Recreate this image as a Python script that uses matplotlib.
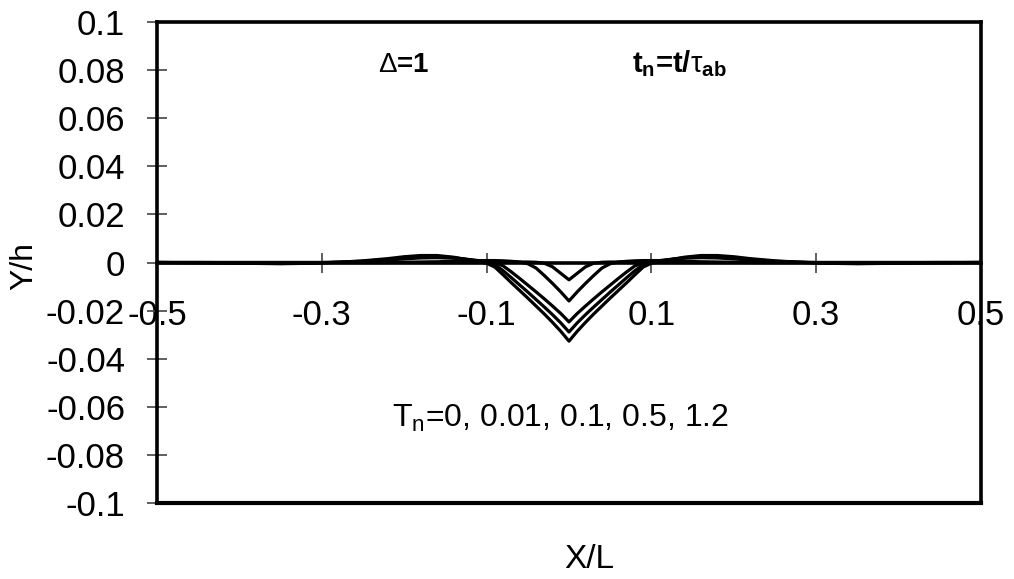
import numpy as np
import matplotlib.pyplot as plt

plt.rcParams['font.family'] = ['Liberation Sans', 'DejaVu Sans']
plt.rcParams['mathtext.fontset'] = 'custom'
plt.rcParams['mathtext.rm'] = 'Liberation Sans'
plt.rcParams['mathtext.it'] = 'Liberation Sans:italic'
plt.rcParams['mathtext.bf'] = 'Liberation Sans:bold'

# half profiles, X/L >= 0 (surface is symmetric about X/L = 0)
x_half = [0, 0.01, 0.02, 0.03, 0.04, 0.05, 0.06, 0.07, 0.08, 0.09, 0.10, 0.11, 0.12,
          0.14, 0.16, 0.18, 0.20, 0.22, 0.25, 0.28, 0.31, 0.35, 0.40, 0.45, 0.50]

tn_values = ['0', '0.01', '0.1', '0.5', '1.2']

y_tn_0 = [-0.0072, -0.0045, -0.0018, -0.0003, 0.0001, 0.0002, 0.0002, 0.0002, 0.0001,
          0.0001, 0, 0, 0, 0, 0, 0, 0, 0, 0, 0, 0, 0, 0, 0, 0]
y_tn_001 = [-0.0160, -0.0122, -0.0087, -0.0054, -0.0023, -0.0005, 0.0002, 0.0005, 0.0007,
            0.0008, 0.0008, 0.0008, 0.0007, 0.0005, 0.0003, 0.0002, 0.0001, 0, 0, 0,
            0, 0, 0, 0, 0]
y_tn_01 = [-0.0247, -0.0212, -0.0181, -0.0151, -0.0122, -0.0094, -0.0066, -0.0039, -0.0014,
           -0.0001, 0.0004, 0.0008, 0.0012, 0.0018, 0.0020, 0.0019, 0.0015, 0.0010, 0.0004,
           0.0001, -0.0001, -0.0002, -0.0001, 0, 0]
y_tn_05 = [-0.0289, -0.0251, -0.0217, -0.0185, -0.0154, -0.0123, -0.0093, -0.0063, -0.0034,
           -0.0009, 0.0001, 0.0006, 0.0011, 0.0020, 0.0025, 0.0025, 0.0020, 0.0013, 0.0005,
           0.0001, -0.0002, -0.0004, -0.0002, -0.0001, 0]
y_tn_12 = [-0.0327, -0.0286, -0.0249, -0.0214, -0.0181, -0.0148, -0.0116, -0.0084, -0.0051,
           -0.0019, -0.0003, 0.0003, 0.0010, 0.0022, 0.0029, 0.0029, 0.0024, 0.0016, 0.0007,
           0.0001, -0.0003, -0.0005, -0.0003, -0.0001, 0]

x_ticks = [-0.5, -0.3, -0.1, 0.1, 0.3, 0.5]
x_tick_labels = ['-0.5', '-0.3', '-0.1', '0.1', '0.3', '0.5']
y_ticks = [-0.1, -0.08, -0.06, -0.04, -0.02, 0, 0.02, 0.04, 0.06, 0.08, 0.1]
y_tick_labels = ['-0.1', '-0.08', '-0.06', '-0.04', '-0.02', '0',
                 '0.02', '0.04', '0.06', '0.08', '0.1']


def mirror(x, y):
    x = np.asarray(x)
    y = np.asarray(y)
    return np.concatenate([-x[:0:-1], x]), np.concatenate([y[:0:-1], y])


fig = plt.figure(figsize=(10.14, 5.79), dpi=100)
ax = fig.add_axes([157 / 1014, 1 - 503 / 579, (981 - 157) / 1014, (503 - 22) / 579])

for ys in [y_tn_0, y_tn_001, y_tn_01, y_tn_05, y_tn_12]:
    xx, yy = mirror(x_half, ys)
    ax.plot(xx, yy, color='black', lw=2.3, solid_joinstyle='round')

ax.set_xlim(-0.5, 0.5)
ax.set_ylim(-0.1, 0.1)
ax.set_xticks(x_ticks)
ax.set_xticklabels(x_tick_labels)
ax.set_yticks(y_ticks)
ax.set_yticklabels(y_tick_labels)

# x axis crosses at Y/h = 0, plot area keeps its own frame
ax.spines['bottom'].set_position(('data', 0))
for s in ax.spines.values():
    s.set_linewidth(2.6)
ax.plot([0, 1], [0, 0], transform=ax.transAxes, color='black', lw=3,
        clip_on=False, solid_capstyle='projecting')

ax.tick_params(direction='inout', length=14, width=1.2, color='#444444', labelsize=25)
ax.tick_params(axis='x', pad=19)
ax.tick_params(axis='y', pad=16)

ax.text(-0.232, 0.0792, r'$\Delta$=1', fontsize=20, fontweight='bold')
ax.text(0.076, 0.0792, r't$_\mathbf{n}$=t/$\mathrm{\tau}_\mathbf{ab}$', fontsize=21,
        fontweight='bold')
ax.text(-0.215, -0.0684, 'T$_\\mathregular{n}$=' + ', '.join(tn_values), fontsize=23)

fig.text(589 / 1014, 1 - 559 / 579, 'X/L', ha='center', va='center', fontsize=24)
fig.text(24 / 1014, 1 - 266 / 579, 'Y/h', ha='center', va='center', rotation=90, fontsize=23)

fig.savefig('out.png', dpi=100)
